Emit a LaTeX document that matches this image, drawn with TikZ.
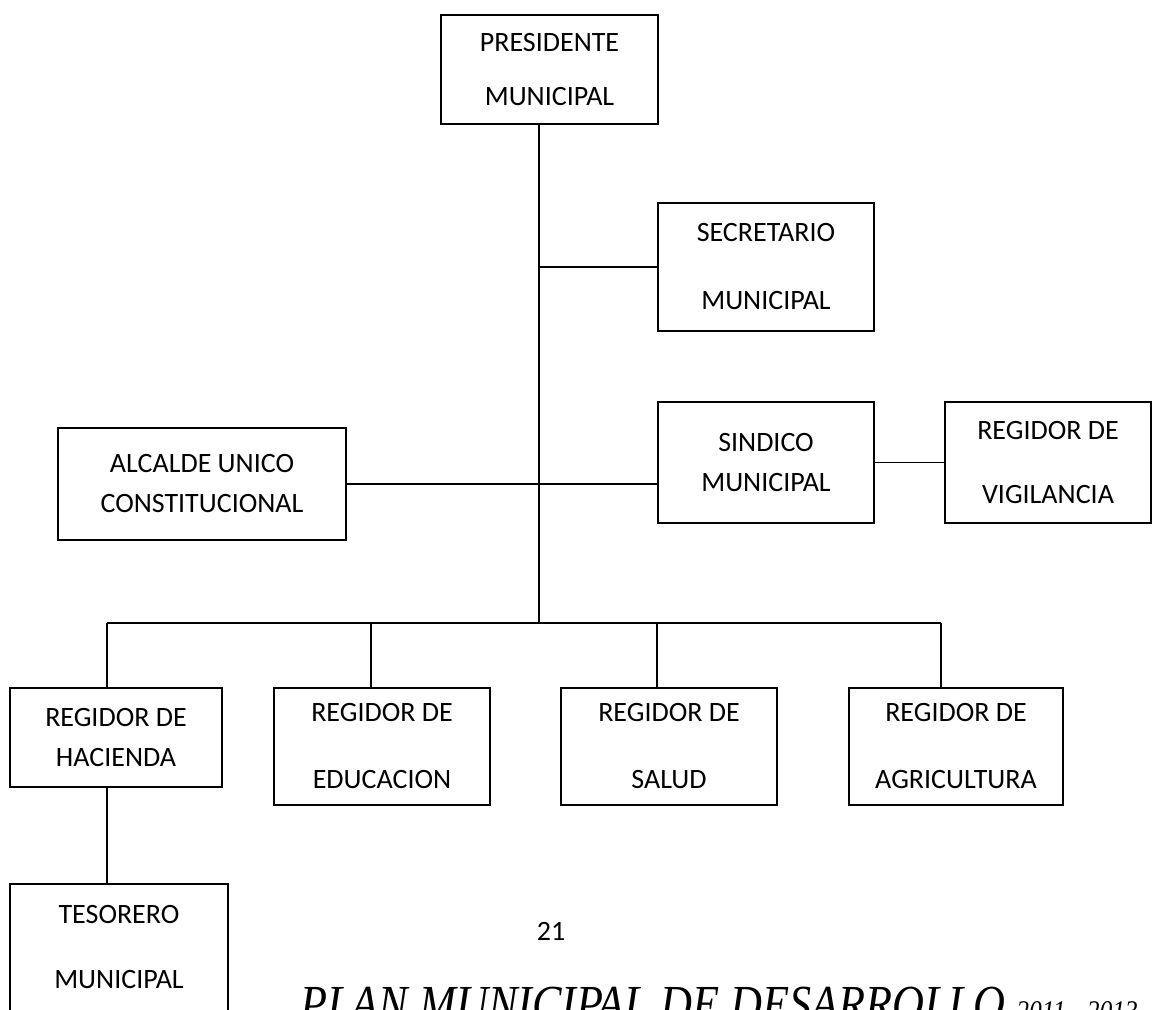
\documentclass[tikz,border=0pt]{standalone}
\usepackage{fontspec}
\setmainfont{Carlito}
\newfontfamily\footfont{Liberation Serif}
\usetikzlibrary{positioning, calc}
\tikzset{
  orgbox/.style={draw, line width=1.8pt, inner sep=0pt, align=center},
  link/.style={line width=1.8pt}
}

\begin{document}
\begin{tikzpicture}[x=1pt, y=-1pt, font=\fontsize{28}{40}\selectfont]
    \useasboundingbox (0,0) rectangle (1153,1009);

    % Top
    \node[orgbox, minimum width=217pt, minimum height=109pt] (pres) at (549.5, 69.5) {PRESIDENTE\\[14pt]MUNICIPAL};
    \node[orgbox, minimum width=216pt, minimum height=128pt] (secr) at (766, 267) {SECRETARIO\\[28pt]MUNICIPAL};

    % Middle row
    \node[orgbox, minimum width=216pt, minimum height=121pt] (sind) at (766, 462.5) {SINDICO\\MUNICIPAL};
    \node[orgbox, minimum width=206pt, minimum height=121pt] (vigi) at (1048, 462.5) {REGIDOR DE\\[24pt]VIGILANCIA};
    \node[orgbox, minimum width=288pt, minimum height=112pt] (alca) at (202, 484) {ALCALDE UNICO\\CONSTITUCIONAL};

    % Regidores
    \node[orgbox, minimum width=212pt, minimum height=99pt] (hac) at (116, 737.5) {REGIDOR DE\\HACIENDA};
    \node[orgbox, minimum width=216pt, minimum height=117pt] (edu) at (382, 746.5) {REGIDOR DE\\[27pt]EDUCACION};
    \node[orgbox, minimum width=216pt, minimum height=117pt] (sal) at (669, 746.5) {REGIDOR DE\\[27pt]SALUD};
    \node[orgbox, minimum width=214pt, minimum height=117pt] (agr) at (956, 746.5) {REGIDOR DE\\[27pt]AGRICULTURA};
    \node[orgbox, minimum width=218pt, minimum height=127pt] (tes) at (119, 947.5) {TESORERO\\[25pt]MUNICIPAL};

    % Bus
    \coordinate (j) at (539, 623);
    \coordinate (b1) at (107, 623);
    \coordinate (b2) at (371, 623);
    \coordinate (b3) at (657, 623);
    \coordinate (b4) at (941, 623);

    % Lines
    \draw[link] (pres.south -| j) -- (j);
    \draw[link] (secr.west -| j) -- (secr.west);
    \draw[link] (alca.east) -- (alca.east -| sind.west);
    \draw[link] (sind.east) -- (vigi.west);
    \draw[link] (b1) -- (b4);
    \draw[link] (b1) -- (b1 |- hac.north);
    \draw[link] (b2) -- (b2 |- edu.north);
    \draw[link] (b3) -- (b3 |- sal.north);
    \draw[link] (b4) -- (b4 |- agr.north);
    \draw[link] (hac.south -| b1) -- (tes.north -| b1);

    % Page
    \node (num) at (551, 931) {21};
    \node[anchor=base west, inner sep=0pt] (foot) at (300, 1021)
      {\scalebox{0.85}[1]{\footfont\itshape\fontsize{52}{60}\selectfont PLAN MUNICIPAL DE DESARROLLO \fontsize{30}{36}\selectfont 2011 - 2013}};
\end{tikzpicture}
\end{document}
